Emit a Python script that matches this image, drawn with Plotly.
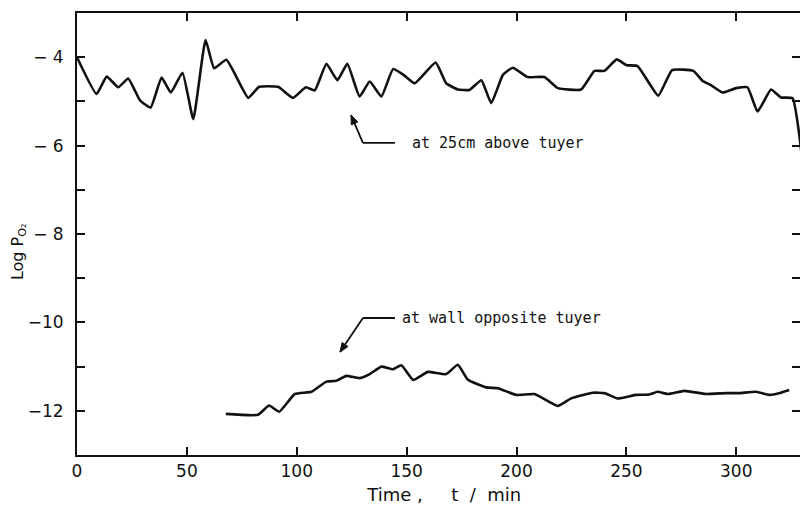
import math
import plotly.graph_objects as go

# ---- data ----
t_above = [0, 8.9, 13.5, 18.8, 23.3, 28.6, 33.5, 38.5, 42.7, 48.0, 52.9, 58.5, 62.4, 68.0,
           77.9, 82.9, 91.5, 98.3, 104.1, 108.2, 113.5, 118.5, 123.0, 128.6, 133.2, 138.5,
           143.8, 148.6, 153.6, 163.2, 168.0, 173.3, 178.6, 184.0, 188.5, 193.8, 198.3,
           205.1, 212.7, 218.8, 229.4, 235.5, 240.0, 245.6, 250.1, 255.1, 264.5, 270.8,
           280.5, 284.7, 288.5, 293.8, 299.9, 305.1, 309.7, 315.8, 320.3, 325.6, 330.0]
logp_above = [-4.0, -4.83, -4.44, -4.68, -4.48, -4.97, -5.14, -4.46, -4.80, -4.35, -5.40, -3.61,
              -4.25, -4.06, -4.92, -4.67, -4.67, -4.92, -4.68, -4.75, -4.15, -4.52, -4.15,
              -4.89, -4.55, -4.89, -4.27, -4.40, -4.59, -4.12, -4.59, -4.73, -4.74, -4.52,
              -5.04, -4.40, -4.24, -4.45, -4.45, -4.70, -4.73, -4.31, -4.31, -4.05, -4.18,
              -4.20, -4.87, -4.29, -4.31, -4.54, -4.63, -4.80, -4.70, -4.68, -5.23, -4.73,
              -4.91, -4.93, -6.30]

t_wall = [67.7, 82.4, 87.4, 92.0, 99.1, 106.7, 113.5, 118.0, 122.6, 128.6, 133.2, 138.5,
          143.8, 147.6, 152.9, 159.7, 168.0, 173.3, 177.9, 186.2, 191.5, 199.9, 208.2,
          218.8, 224.9, 234.7, 240.0, 246.0, 254.4, 260.5, 264.2, 268.8, 276.4, 286.2,
          295.3, 301.4, 309.0, 315.0, 320.3, 324.1]
logp_wall = [-12.07, -12.09, -11.88, -12.02, -11.62, -11.57, -11.34, -11.32, -11.21, -11.26,
             -11.17, -11.00, -11.06, -10.97, -11.30, -11.12, -11.17, -10.96, -11.30, -11.47,
             -11.49, -11.64, -11.62, -11.89, -11.72, -11.59, -11.60, -11.72, -11.64, -11.63,
             -11.57, -11.62, -11.55, -11.62, -11.60, -11.60, -11.57, -11.64, -11.59, -11.53]

x_ticks = [0, 50, 100, 150, 200, 250, 300]
y_ticks = [-12, -10, -8, -6, -4]
y_ticktext = ["\u221212", "\u221210", "\u2212 8", "\u2212 6", "\u2212 4"]

label_above = "at 25cm above tuyer"
label_wall = "at wall opposite tuyer"
x_title = "&nbsp;&nbsp;Time&nbsp;,&nbsp;&nbsp;&nbsp;&nbsp;&nbsp;t&nbsp;&nbsp;/&nbsp;&nbsp;min"
y_title = "Log P<sub>O\u2082</sub>" + "&nbsp;" * 7

INK = "#111111"
SANS = "DejaVu Sans, Arial, sans-serif"
MONO = "DejaVu Sans Mono, Liberation Mono, monospace"

X_RANGE = [0, 329]
Y_RANGE = [-13, -3]
L, R, T, B = 77, 0, 13, 55
W, H = 800, 510
PX_X = (W - L - R) / (X_RANGE[1] - X_RANGE[0])
PX_Y = (H - T - B) / (Y_RANGE[1] - Y_RANGE[0])

fig = go.Figure()
fig.add_trace(go.Scatter(x=t_above, y=logp_above, mode="lines",
                         line=dict(color=INK, width=2.6, shape="spline", smoothing=0.4),
                         showlegend=False, hoverinfo="skip"))
fig.add_trace(go.Scatter(x=t_wall, y=logp_wall, mode="lines",
                         line=dict(color=INK, width=2.6, shape="spline", smoothing=0.4),
                         showlegend=False, hoverinfo="skip"))


def leader(elbow, end, tip):
    """Bent leader: horizontal segment elbow->end, slanted segment elbow->tip with arrowhead."""
    fig.add_shape(type="line", x0=elbow[0], y0=elbow[1], x1=end[0], y1=end[1],
                  xref="x", yref="y", line=dict(color=INK, width=1.8))
    fig.add_shape(type="line", x0=elbow[0], y0=elbow[1], x1=tip[0], y1=tip[1],
                  xref="x", yref="y", line=dict(color=INK, width=1.8))
    dx = (tip[0] - elbow[0]) * PX_X
    dy = (tip[1] - elbow[1]) * PX_Y
    n = math.hypot(dx, dy)
    ux, uy = dx / n, dy / n
    hl, hw = 9.0, 3.6
    bx, by = -ux * hl, -uy * hl
    px_, py_ = -uy * hw, ux * hw
    c1 = (tip[0] + (bx + px_) / PX_X, tip[1] + (by + py_) / PX_Y)
    c2 = (tip[0] + (bx - px_) / PX_X, tip[1] + (by - py_) / PX_Y)
    path = f"M {tip[0]},{tip[1]} L {c1[0]},{c1[1]} L {c2[0]},{c2[1]} Z"
    fig.add_shape(type="path", path=path, xref="x", yref="y",
                  fillcolor=INK, line=dict(color=INK, width=1))


leader((130.1, -5.94), (144.7, -5.94), (124.7, -5.31))
leader((130.1, -9.90), (144.7, -9.90), (119.7, -10.67))

fig.add_annotation(x=151.5, y=-5.94, xref="x", yref="y", text=label_above, showarrow=False,
                   xanchor="left", yanchor="middle", font=dict(family=MONO, size=15, color=INK))
fig.add_annotation(x=147.0, y=-9.90, xref="x", yref="y", text=label_wall, showarrow=False,
                   xanchor="left", yanchor="middle", font=dict(family=MONO, size=15, color=INK))

fig.update_xaxes(range=X_RANGE, tickvals=x_ticks, ticks="inside", ticklen=8, tickwidth=2,
                 tickcolor=INK, showline=True, linewidth=2, linecolor=INK, mirror="ticks",
                 showgrid=False, zeroline=False, automargin=False,
                 title=dict(text=x_title, standoff=8, font=dict(family=SANS, size=18, color=INK)),
                 tickfont=dict(family=SANS, size=17, color=INK))
fig.update_yaxes(range=Y_RANGE, tickvals=y_ticks, ticktext=y_ticktext, ticks="inside",
                 ticklen=8, tickwidth=2, tickcolor=INK, showline=True, linewidth=2,
                 linecolor=INK, mirror="ticks", showgrid=False, zeroline=False,
                 automargin=False,
                 minor=dict(dtick=1, tick0=-13, ticks="inside", ticklen=8, tickwidth=2,
                            tickcolor=INK, showgrid=False),
                 ticklabelstandoff=8,
                 title=dict(text=y_title, standoff=0, font=dict(family=SANS, size=16, color=INK)),
                 tickfont=dict(family=SANS, size=17, color=INK))

fig.update_layout(width=W, height=H, margin=dict(l=L, r=R, t=T, b=B),
                  paper_bgcolor="white", plot_bgcolor="white", hovermode=False)

fig.write_html("out.html", config={"displayModeBar": False},
               post_script="document.body.style.margin='0';document.body.style.overflow='hidden';")
